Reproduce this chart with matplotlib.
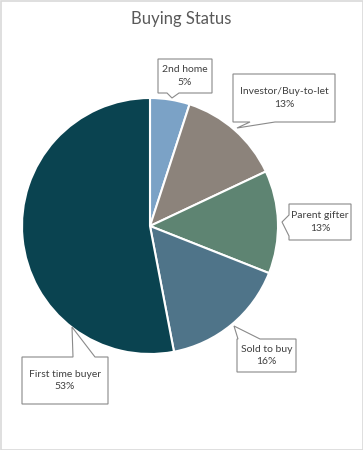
import matplotlib
matplotlib.use("Agg")
import matplotlib.pyplot as plt

# data
labels = ["2nd home", "Investor/Buy-to-let", "Parent gifter", "Sold to buy", "First time buyer"]
shares = [5, 13, 13, 16, 53]
colors = ["#7BA2C6", "#8C837B", "#5E8472", "#4F7489", "#0A4350"]

plt.rcParams['font.family'] = ['Lato', 'DejaVu Sans']

H = 450
fig = plt.figure(figsize=(3.63, 4.5), dpi=100)
ax = fig.add_axes([0, 0, 1, 1])

# light frame around chart area
frame = plt.Rectangle((0.5, 0.5), 362, 449, fill=False, ec="#d9d9d9", lw=1.2)
ax.add_patch(frame)

ax.text(181, H - 19, "Buying Status", ha='center', va='center', fontsize=12, color="#595959")

wedges, _ = ax.pie(shares, colors=colors, startangle=90, counterclock=False,
                   center=(150, H - 226), radius=128, frame=True,
                   wedgeprops=dict(edgecolor='white', linewidth=1.5))
ax.set_xlim(0, 363)
ax.set_ylim(0, H)
ax.set_aspect('equal')
ax.axis('off')

# callout layout in pixel coords from top: box, pointer side, base span, tip
callouts = [
    ((158, 59, 212, 93), 'bottom', (167, 179), (172, 98)),
    ((233, 74, 335, 122), 'bottom', (250, 275), (237, 128)),
    ((289, 204, 351, 240), 'left', (215, 236), (282, 222)),
    ((237, 339, 296, 372), 'top', (238, 260), (234, 326)),
    ((22, 357, 108, 404), 'top', (73, 95), (72, 327)),
]


def callout_outline(box, side, base, tip):
    x0, y0, x1, y1 = box
    a, b = base
    pts = [(x0, y0)]
    if side == 'top':
        pts += [(a, y0), tip, (b, y0)]
    pts += [(x1, y0), (x1, y1)]
    if side == 'bottom':
        pts += [(b, y1), tip, (a, y1)]
    pts += [(x0, y1)]
    if side == 'left':
        pts += [(x0, b), tip, (x0, a)]
    return [(x, H - y) for x, y in pts]


for lab, val, (box, side, base, tip) in zip(labels, shares, callouts):
    poly = plt.Polygon(callout_outline(box, side, base, tip), closed=True,
                       fc='white', ec='#8a8a8a', lw=0.8, zorder=3)
    ax.add_patch(poly)
    cx = (box[0] + box[2]) / 2
    cy = (box[1] + box[3]) / 2
    ax.text(cx, H - cy, "%s\n%d%%" % (lab, val), ha='center', va='center',
            fontsize=7.5, color="#404040", linespacing=1.55, zorder=4)

fig.savefig("out.png", dpi=100)
